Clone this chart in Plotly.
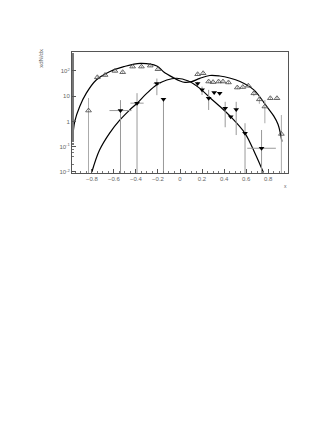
import plotly.graph_objects as go

# ---------------- data ----------------
# open triangles
open_x = [-0.83, -0.75, -0.68, -0.59, -0.52, -0.43, -0.35, -0.27, -0.20,
          0.16, 0.21, 0.26, 0.30, 0.35, 0.39, 0.44, 0.52, 0.57, 0.62, 0.67,
          0.72, 0.77, 0.82, 0.88, 0.92]
open_y = [2.7, 56, 69, 100, 89, 148, 148, 162, 117,
          74, 81, 38, 36, 38, 38, 35, 22, 23, 26, 13,
          7.5, 3.9, 8.3, 8.3, 0.32]
open_hi = [8.5, 66, 80, 115, 100, 165, 165, 180, 130,
           85, 92, 43, 41, 43, 43, 40, 25, 26, 30, 17,
           11, 7.1, 9.5, 9.5, 1.8]
open_lo = [0.008, 48, 60, 88, 78, 132, 132, 145, 105,
           65, 71, 33, 31, 33, 33, 30, 19, 20, 22, 10,
           5.0, 0.85, 7.2, 7.2, 0.008]

# filled (down) triangles
fill_x = [-0.54, -0.39, -0.21, -0.15, 0.16, 0.20, 0.26, 0.31, 0.36,
          0.41, 0.46, 0.51, 0.59, 0.74]
fill_y = [2.7, 5.3, 32, 7.6, 32, 18, 8.3, 14, 13,
          3.3, 1.55, 3.0, 0.34, 0.087]
fill_hi = [7.0, 13.2, 50, 7.6, 37, 24, 17.8, 14, 13,
           6.0, 1.55, 6.0, 0.85, 0.46]
fill_lo = [0.008, 0.008, 11, 0.008, 27, 11.2, 2.85, 14, 13,
           0.59, 1.55, 0.29, 0.008, 0.008]
fill_xerr = [0.10, 0.06, 0.03, 0.0, 0.0, 0.0, 0.0, 0.0, 0.0,
             0.0, 0.0, 0.0, 0.0, 0.13]

# fitted curves
curveA_x = [-0.975, -0.955, -0.91, -0.85, -0.76, -0.64, -0.51, -0.36, -0.21,
            -0.15, -0.06, 0.0, 0.045, 0.106, 0.18, 0.27, 0.36, 0.45, 0.545,
            0.67, 0.76, 0.80, 0.85, 0.89, 0.925]
curveA_y = [0.18, 1.0, 3.9, 13.2, 43.7, 93, 148, 200, 158,
            93, 54, 40, 35.5, 38, 51, 66, 63, 52.5, 38,
            17.8, 5.75, 3.3, 1.66, 0.76, 0.16]

curveB_x = [-0.80, -0.73, -0.64, -0.545, -0.455, -0.39, -0.30, -0.21, -0.12,
            -0.03, 0.076, 0.18, 0.27, 0.36, 0.46, 0.59, 0.68, 0.757]
curveB_y = [0.01, 0.074, 0.34, 1.15, 2.9, 5.25, 13.2, 28.2, 43.7,
            51.3, 39.8, 20.4, 8.9, 4.0, 1.55, 0.34, 0.055, 0.0095]

y_tickvals = [0.01, 0.1, 1, 10, 100]
y_ticktext = ["10<sup>-2</sup>", "10<sup>-1</sup>", "1", "10", "10<sup>2</sup>"]
x_tickvals = [-0.8, -0.6, -0.4, -0.2, 0, 0.2, 0.4, 0.6, 0.8]
x_ticktext = ["\u22120.8", "\u22120.6", "\u22120.4", "\u22120.2", "0", "0.2", "0.4", "0.6", "0.8"]

# --------------- figure ----------------
fig = go.Figure()

fig.add_trace(go.Scatter(
    x=curveA_x, y=curveA_y, mode="lines", line=dict(color="black", width=1.2, shape="spline"),
    hoverinfo="skip", showlegend=False))
fig.add_trace(go.Scatter(
    x=curveB_x, y=curveB_y, mode="lines", line=dict(color="black", width=1.2, shape="spline"),
    hoverinfo="skip", showlegend=False))

fig.add_trace(go.Scatter(
    x=open_x, y=open_y, mode="markers",
    marker=dict(symbol="triangle-up-open", size=5, color="#444", line=dict(width=0.8)),
    error_y=dict(type="data", symmetric=False,
                 array=[h - y for h, y in zip(open_hi, open_y)],
                 arrayminus=[y - l for y, l in zip(open_y, open_lo)],
                 color="#aaa", thickness=1, width=0),
    showlegend=False))

fig.add_trace(go.Scatter(
    x=fill_x, y=fill_y, mode="markers",
    marker=dict(symbol="triangle-down", size=5, color="black"),
    error_y=dict(type="data", symmetric=False,
                 array=[h - y for h, y in zip(fill_hi, fill_y)],
                 arrayminus=[y - l for y, l in zip(fill_y, fill_lo)],
                 color="#999", thickness=1, width=0),
    error_x=dict(type="data", array=fill_xerr, color="#999", thickness=1, width=0),
    showlegend=False))

axis_font = dict(family="Liberation Sans, Arial, sans-serif", size=6, color="#666")

fig.update_layout(
    width=327, height=423,
    margin=dict(l=64, r=47, t=44, b=258),
    paper_bgcolor="white", plot_bgcolor="white",
    xaxis=dict(range=[-0.98, 0.98], tickvals=x_tickvals, ticktext=x_ticktext,
               ticks="inside", ticklen=4, tickcolor="#555", tickwidth=1,
               showline=True, linecolor="#555", linewidth=1, mirror=True,
               showgrid=False, zeroline=False, tickfont=axis_font,
               minor=dict(dtick=0.05, tick0=0, ticks="inside", ticklen=2, tickcolor="#777")),
    yaxis=dict(type="log", range=[-2.04, 2.75], tickvals=y_tickvals, ticktext=y_ticktext,
               ticks="inside", ticklen=4, tickcolor="#555", tickwidth=1,
               showline=True, linecolor="#555", linewidth=1, mirror=True,
               showgrid=False, zeroline=False, tickfont=axis_font,
               minor=dict(ticks="inside", ticklen=2, tickcolor="#777", showgrid=False)),
    annotations=[
        dict(text="xdN/dx", xref="paper", yref="paper", x=-0.145, y=0.95,
             textangle=-90, showarrow=False, font=axis_font, xanchor="center", yanchor="middle"),
        dict(text="x", xref="paper", yref="paper", x=0.99, y=-0.11,
             showarrow=False, font=dict(family="Liberation Sans, Arial, sans-serif", size=5, color="#666"),
             xanchor="center", yanchor="middle"),
    ],
)

fig.write_html("out.html")
